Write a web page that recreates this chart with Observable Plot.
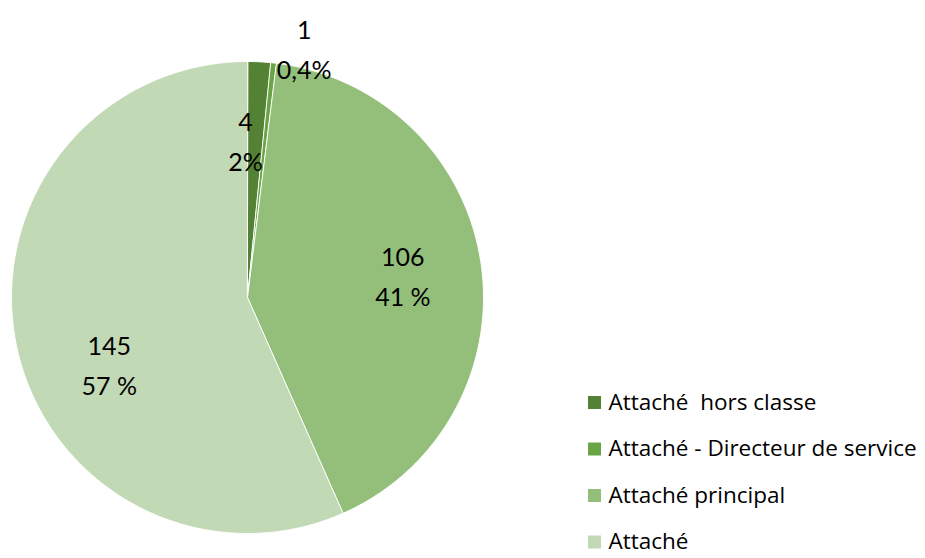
<!DOCTYPE html>
<html>
<head>
<meta charset="utf-8">
<script src="https://cdn.jsdelivr.net/npm/d3@7"></script>
<script src="https://cdn.jsdelivr.net/npm/@observablehq/plot@0.6"></script>
<style>
  html, body { margin: 0; padding: 0; background: #fff; }
  #chart svg { display: block; }
</style>
</head>
<body>
<div id="chart"></div>
<script>
// ---- data ----
const categories = ["Attaché  hors classe", "Attaché - Directeur de service", "Attaché principal", "Attaché"];
const values = [4, 1, 106, 145];
const percentLabels = ["2%", "0,4%", "41 %", "57 %"];
const colors = ["#548235", "#6aa545", "#93bf7b", "#c1d9b4"];

// ---- layout ----
const W = 925, H = 558;
const cx = 247, cy = 297, R = 236;
const labelRadius = [0.675, 1.09, 0.666, 0.647];
const labelAngleNudge = [-3.5, 6.4, -0.3, -13.2]; // degrees
const legendX = 594, legendTextX = 608, legendY0 = 402, legendStep = 46.5;
const font = "Lato, 'Open Sans', sans-serif";
const legendFont = "'Open Sans', Lato, sans-serif";

const arcs = d3.pie().sort(null).value(d => d)(values);
const toXY = (a, r) => [cx + r * Math.sin(a), cy - r * Math.cos(a)];

const slices = arcs.map((a, i) => {
  const n = Math.max(4, Math.ceil((a.endAngle - a.startAngle) / 0.01));
  const ring = [[cx, cy]];
  for (let k = 0; k <= n; k++) {
    const t = a.startAngle + (a.endAngle - a.startAngle) * k / n;
    ring.push(toXY(t, R));
  }
  ring.push([cx, cy]);
  return {type: "Feature", properties: {cat: categories[i], color: colors[i]}, geometry: {type: "Polygon", coordinates: [ring]}};
});

const labels = arcs.map((a, i) => {
  const mid = (a.startAngle + a.endAngle) / 2 + labelAngleNudge[i] * Math.PI / 180;
  const [x, y] = toXY(mid, labelRadius[i] * R);
  return {x, y, text: values[i] + "\n" + percentLabels[i]};
});

const legend = categories.map((c, i) => ({cat: c, color: colors[i], y: legendY0 + i * legendStep}));

const frame = {type: "Polygon", coordinates: [[[0, 0], [0, H], [W, H], [W, 0], [0, 0]]]};

const chart = Plot.plot({
  width: W,
  height: H,
  margin: 0,
  projection: {type: "identity", domain: frame, inset: 0},
  style: {background: "#fff", fontFamily: font},
  marks: [
    Plot.geo(slices, {fill: d => d.properties.color, stroke: "#fff", strokeWidth: 1}),
    Plot.text(labels, {x: "x", y: "y", text: "text", fontSize: 25, lineHeight: 1.6, fill: "#000", fontFamily: font}),
    Plot.dot(legend, {x: () => legendX, y: "y", symbol: "square", r: 7.33, fill: "color", stroke: null}),
    Plot.text(legend, {x: () => legendTextX, y: "y", text: "cat", textAnchor: "start", fontSize: 22.5, fill: "#000", fontFamily: legendFont})
  ]
});
document.getElementById("chart").appendChild(chart);
</script>
</body>
</html>
